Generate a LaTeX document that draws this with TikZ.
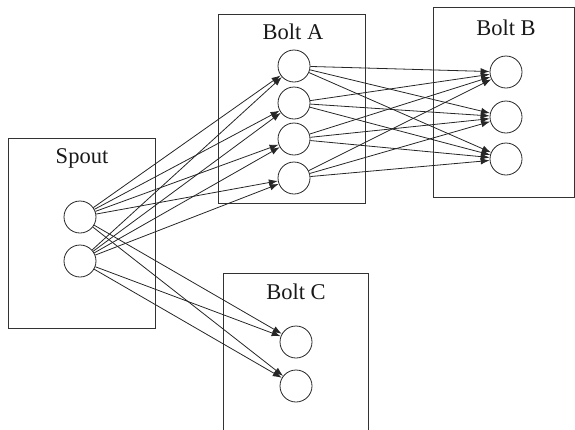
\documentclass[tikz,border=0pt]{standalone}
\usepackage{fontspec}
\setmainfont{Liberation Serif}
\usetikzlibrary{arrows.meta}
\begin{document}
\begin{tikzpicture}[x=1pt,y=-1pt,
  box/.style={draw=black!80,line width=0.9pt,rectangle,inner sep=0pt},
  task/.style={draw=black!85,line width=0.8pt,circle,minimum size=32pt,inner sep=0pt},
  lbl/.style={font=\fontsize{22.5}{24}\selectfont,text=black!90},
  conn/.style={draw=black!85,line width=0.8pt,-{Latex[length=9pt,width=6.5pt]}}]
\useasboundingbox (0,0) rectangle (575,429);
\clip (0,0) rectangle (575,429);
% boxes
\node[box,minimum width=147pt,minimum height=190pt] (spoutbox) at (81.5,233) {};
\node[box,minimum width=147pt,minimum height=189pt] (boltAbox) at (291.5,108.5) {};
\node[box,minimum width=141pt,minimum height=190pt] (boltBbox) at (503.5,102) {};
\node[box,minimum width=145pt,minimum height=180pt] (boltCbox) at (295.5,363) {};
% labels
\node[lbl] (spoutlbl) at (82,158) {Spout};
\node[lbl] (boltAlbl) at (293,32) {Bolt A};
\node[lbl] (boltBlbl) at (506,28) {Bolt B};
\node[lbl] (boltClbl) at (296,292) {Bolt C};
% tasks
\node[task] (s1) at (80,217) {};
\node[task] (s2) at (80,261) {};
\node[task] (a1) at (294,66) {};
\node[task] (a2) at (294,103) {};
\node[task] (a3) at (294,139) {};
\node[task] (a4) at (294,178) {};
\node[task] (b1) at (506,72) {};
\node[task] (b2) at (506,117) {};
\node[task] (b3) at (506,159) {};
\node[task] (c1) at (296,342) {};
\node[task] (c2) at (296,386) {};
% connectors
\foreach \s in {s1,s2}{
  \foreach \t in {a1,a2,a3,a4,c1,c2}{
    \draw[conn] (\s) -- (\t);
  }
}
\foreach \s in {a1,a2,a3,a4}{
  \foreach \t in {b1,b2,b3}{
    \draw[conn] (\s) -- (\t);
  }
}
\end{tikzpicture}
\end{document}
